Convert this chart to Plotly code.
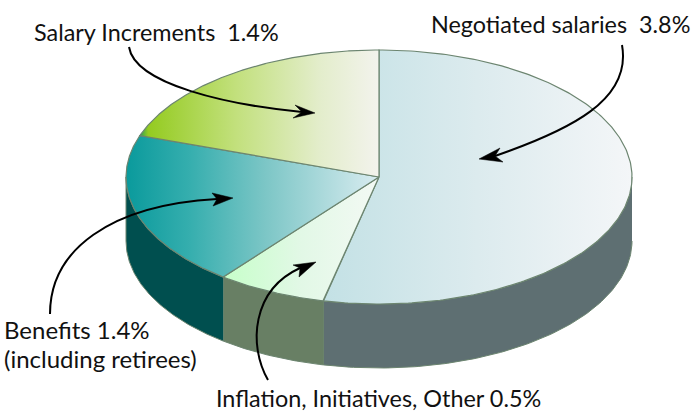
import numpy as np
import plotly.graph_objects as go

categories = ["Negotiated salaries", "Inflation, Initiatives, Other", "Benefits", "Salary Increments"]
values = [3.8, 0.5, 1.4, 1.4]
label_lines = [["Negotiated salaries  3.8%"], ["Inflation, Initiatives, Other 0.5%"],
               ["Benefits 1.4%", "(including retirees)"], ["Salary Increments  1.4%"]]

top_scales = [
    [[0, "#c3e1e5"], [0.5, "#dcebee"], [1, "#f4f6f8"]],
    [[0, "#c6ffc9"], [0.5, "#e2f8e6"], [1, "#f3f9f4"]],
    [[0, "#0a9a9c"], [0.25, "#35aeae"], [0.55, "#7cc6c6"], [1, "#d9ecf0"]],
    [[0, "#2a9f55"], [0.035, "#94cb20"], [0.4, "#c2e07c"], [0.75, "#e3edcb"], [1, "#f3f3ed"]],
]
wall_colors = ["#5e6f72", "#687f64", "#004f4f", None]
edge = "#6c8570"

CX, CY, RX, RY, DEPTH = 379.0, 177.0, 253.0, 127.0, 64.0


def ellipse(t_deg, dy=0.0):
    t = np.radians(t_deg)
    return CX + RX * np.sin(t), CY - RY * np.cos(t) + dy


fig = go.Figure()
shares = np.array(values) / np.sum(values) * 360.0
ends = np.cumsum(shares)
starts = ends - shares

# side walls
for a, b, col in zip(starts, ends, wall_colors):
    lo, hi = max(a, 90.0), min(b, 270.0)
    if col is None or hi <= lo:
        continue
    t = np.linspace(lo, hi, 120)
    x1, y1 = ellipse(t)
    x2, y2 = ellipse(t[::-1], DEPTH)
    fig.add_trace(go.Scatter(x=np.r_[x1, x2], y=np.r_[y1, y2], mode="lines", fill="toself",
                             fillcolor=col, line=dict(color=edge, width=1), hoverinfo="skip"))

# top faces
for a, b, scale in zip(starts, ends, top_scales):
    t = np.linspace(a, b, 240)
    x, y = ellipse(t)
    x = np.r_[CX, x, CX]
    y = np.r_[CY, y, CY]
    fig.add_trace(go.Scatter(x=x, y=y, mode="lines", fill="toself",
                             fillgradient=dict(type="horizontal", colorscale=scale),
                             line=dict(color=edge, width=1.2), hoverinfo="skip"))

shapes = []
curves = [
    "M 622,45 C 632,100 570,130 495,156",
    "M 268,380 C 248,345 252,290 300,268",
    "M 50,314 C 50,250 110,205 217,199",
    "M 129,47 C 135,85 230,105 302,112",
]
heads = [
    "M 479,159 L 500,148 L 495,156 L 503,162 Z",
    "M 316,262 L 293,265 L 300,268 L 299,277 Z",
    "M 233,198 L 212,193 L 217,199 L 213,206 Z",
    "M 315,113 L 295,105 L 302,112 L 293,118 Z",
]
for c, h in zip(curves, heads):
    shapes.append(dict(type="path", path=c, xref="x", yref="y", line=dict(color="black", width=2)))
    shapes.append(dict(type="path", path=h, xref="x", yref="y", fillcolor="black",
                       line=dict(color="black", width=0.5)))

label_pos = [[(429, 24)], [(214, 398)], [(2, 329), (2, 358)], [(32, 32)]]
label_size = [[23.4], [23.4], [24, 24], [23.4]]
annotations = []
for lines, poss, sizes in zip(label_lines, label_pos, label_size):
    for line, (px, py), fs in zip(lines, poss, sizes):
        annotations.append(dict(x=px, y=py, xref="x", yref="y", text=line, showarrow=False,
                                xanchor="left", yanchor="middle",
                                font=dict(family="Lato", size=fs, color="#111111")))

fig.update_layout(
    width=696, height=413, margin=dict(l=0, r=0, t=0, b=0),
    paper_bgcolor="white", plot_bgcolor="white", showlegend=False, hovermode=False,
    xaxis=dict(range=[0, 696], visible=False, fixedrange=True),
    yaxis=dict(range=[413, 0], visible=False, fixedrange=True),
    shapes=shapes, annotations=annotations,
)
fig.write_html("out.html", config=dict(displayModeBar=False),
               post_script="document.body.style.margin='0';")
